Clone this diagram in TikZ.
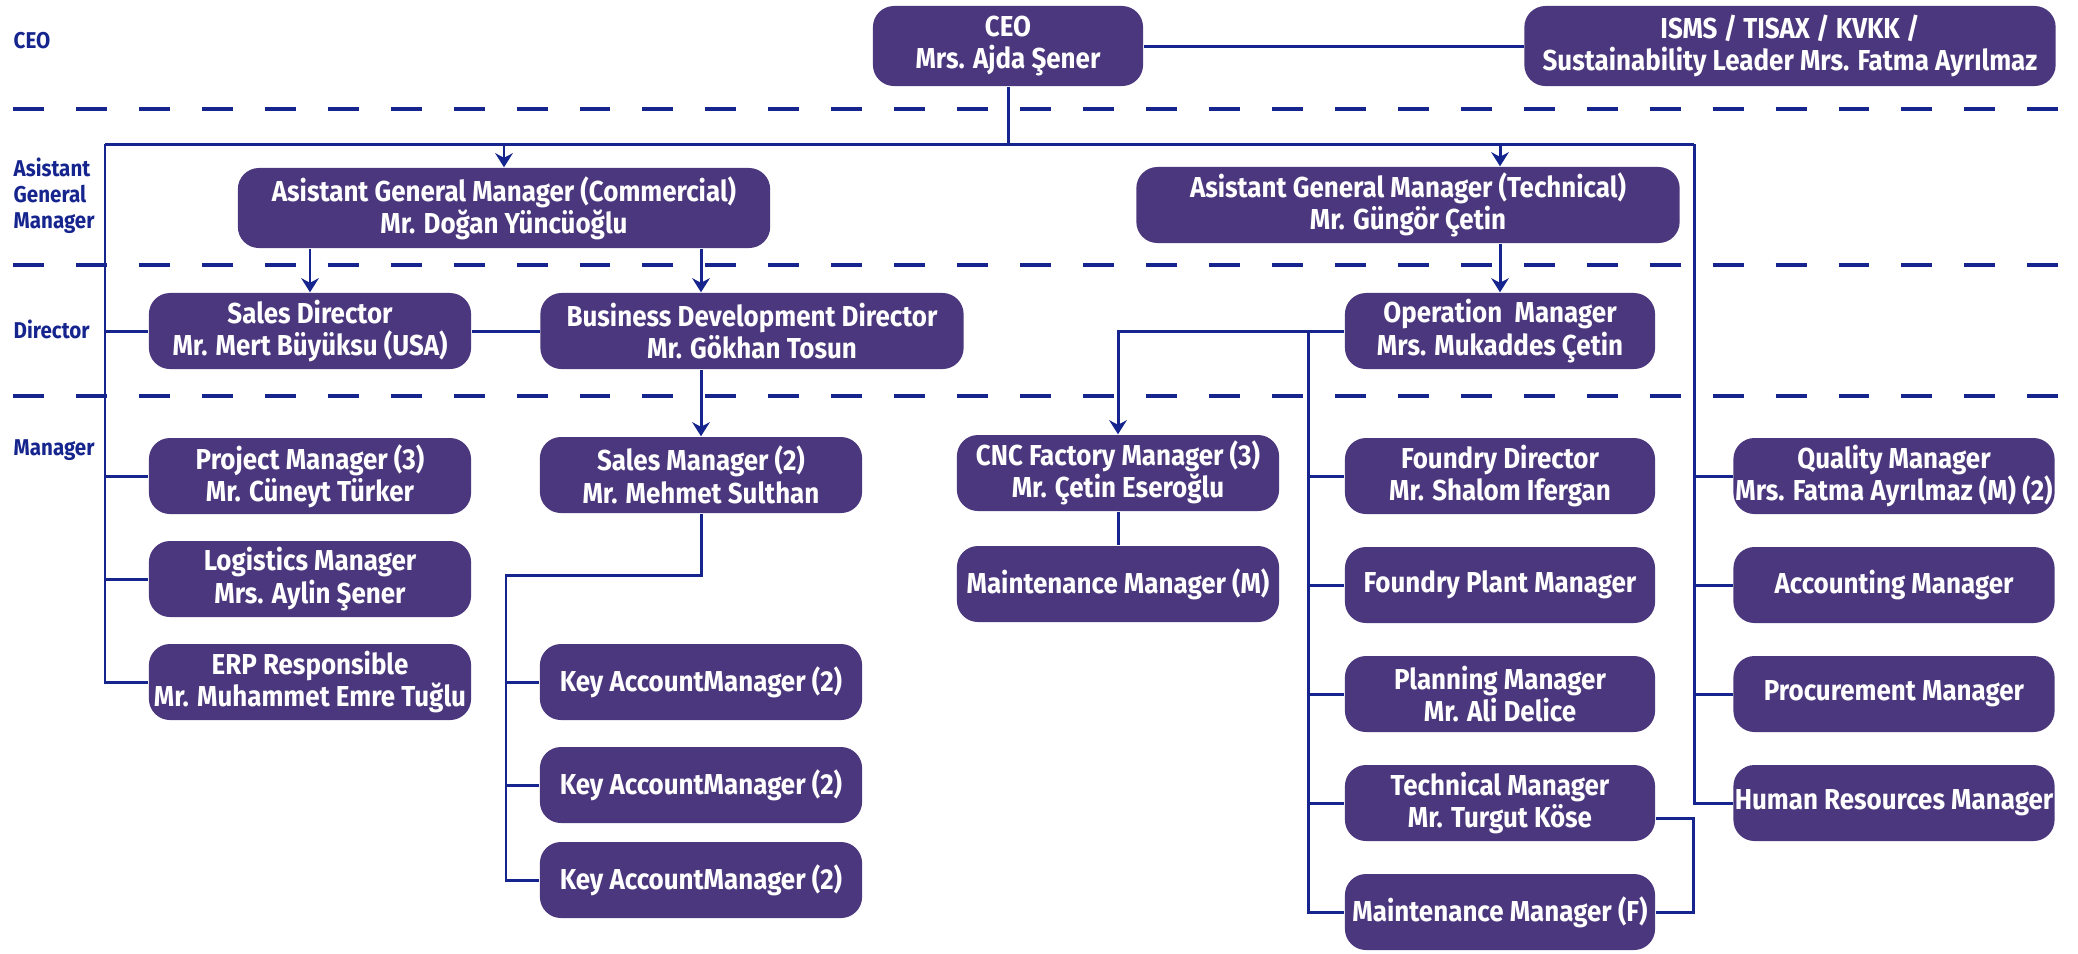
\documentclass[tikz,border=0pt]{standalone}
\usepackage{fontspec}
\setmainfont{Fira Sans}[FakeStretch=0.9]
\usetikzlibrary{arrows.meta}
\definecolor{boxpurple}{HTML}{4B377D}
\definecolor{linkblue}{HTML}{16258E}

\begin{document}
\begin{tikzpicture}[x=0.01cm, y=-0.01cm,
    unit/.style={rounded corners=6pt, fill=boxpurple, text=white, align=center, inner sep=0pt,
        font=\fontsize{8.2}{9.2}\selectfont\bfseries, minimum height=0.76cm, minimum width=3.22cm},
    link/.style={draw=linkblue, line width=0.85pt},
    arr/.style={link, -{Stealth[length=4pt, width=5pt, inset=1.3pt]}},
    level/.style={text=linkblue, font=\fontsize{6.5}{7.4}\selectfont\bfseries, align=left, anchor=west, inner sep=0pt}]

    \useasboundingbox (0,0) rectangle (2078,953);

    % Level separators
    \foreach \y in {109, 265, 396} {
        \draw[linkblue, line width=1pt, dash pattern=on 8.8pt off 9.1pt] (13,\y) -- (2068,\y);
    }

    % Level names
    \node[level] (lceo) at (13,41) {CEO};
    \node[level] (lagm) at (13,196) {Asistant\\General\\Manager};
    \node[level] (ldir) at (13,329) {Director};
    \node[level] (lmgr) at (13,450) {Manager};

    % CEO level
    \node[unit, minimum width=2.70cm, minimum height=0.80cm] (ceo) at (1008,46) {CEO\\Mrs. Ajda Şener};
    \node[unit, minimum width=5.31cm, minimum height=0.80cm] (isms) at (1790,46) {ISMS / TISAX / KVKK /\\Sustainability Leader Mrs. Fatma Ayrılmaz};

    % Asistant general managers
    \node[unit, minimum width=5.32cm, minimum height=0.80cm] (agmc) at (504,208) {Asistant General Manager (Commercial)\\Mr. Doğan Yüncüoğlu};
    \node[unit, minimum width=5.43cm] (agmt) at (1408,205) {Asistant General Manager (Technical)\\Mr. Güngör Çetin};

    % Directors
    \node[unit] (salesdir) at (310,331) {Sales Director\\Mr. Mert Büyüksu (USA)};
    \node[unit, minimum width=4.23cm] (bdd) at (752,331) {Business Development Director\\Mr. Gökhan Tosun};
    \node[unit, minimum width=3.10cm] (opm) at (1500,331) {Operation~~Manager\\Mrs. Mukaddes Çetin};

    % Commercial managers
    \node[unit] (project) at (310,476) {Project Manager (3)\\Mr. Cüneyt Türker};
    \node[unit] (logistics) at (310,579) {Logistics Manager\\Mrs. Aylin Şener};
    \node[unit] (erp) at (310,682) {ERP Responsible\\Mr. Muhammet Emre Tuğlu};
    \node[unit] (salesmgr) at (701,475) {Sales Manager (2)\\Mr. Mehmet Sulthan};
    \node[unit] (key1) at (701,682) {Key AccountManager (2)};
    \node[unit] (key2) at (701,785) {Key AccountManager (2)};
    \node[unit] (key3) at (701,880) {Key AccountManager (2)};

    % Technical managers
    \node[unit] (cnc) at (1118,473) {CNC Factory Manager (3)\\Mr. Çetin Eseroğlu};
    \node[unit] (maintm) at (1118,584) {Maintenance Manager (M)};
    \node[unit, minimum width=3.10cm] (fdir) at (1500,476) {Foundry Director\\Mr. Shalom Ifergan};
    \node[unit, minimum width=3.10cm] (fplant) at (1500,585) {Foundry Plant Manager};
    \node[unit, minimum width=3.10cm] (planning) at (1500,694) {Planning Manager\\Mr. Ali Delice};
    \node[unit, minimum width=3.10cm] (tech) at (1500,803) {Technical Manager\\Mr. Turgut Köse};
    \node[unit, minimum width=3.10cm] (maintf) at (1500,912) {Maintenance Manager (F)};
    \node[unit, minimum width=3.21cm] (quality) at (1894,476) {Quality Manager\\Mrs. Fatma Ayrılmaz (M) (2)};
    \node[unit, minimum width=3.21cm] (accounting) at (1894,585) {Accounting Manager};
    \node[unit, minimum width=3.21cm] (procurement) at (1894,694) {Procurement Manager};
    \node[unit, minimum width=3.21cm] (hr) at (1894,803) {Human Resources Manager};

    % Spines
    \coordinate (busL) at (105,144);
    \coordinate (busR) at (1694,144);
    \coordinate (kaspine) at (506,575);
    \coordinate (fsp) at (1308,0);
    \coordinate (brk) at (1693,0);

    % CEO links
    \draw[link] (ceo.east) -- (isms.west);
    \draw[link] (ceo.south) -- (ceo.south |- busL);
    \draw[link] (busL) -- (busR);
    \draw[arr] (busL -| agmc.north) -- (agmc.north);
    \draw[arr] (busR -| opm.north) -- (opm.north |- agmt.north);

    % Left spine
    \draw[link] (busL) |- (erp.west);
    \foreach \n in {salesdir, project, logistics} {
        \draw[link] (busL |- \n.west) -- (\n.west);
    }
    \draw[link] (salesdir.east) -- (bdd.west);

    % Commercial links
    \draw[arr] (agmc.south -| salesdir.north) -- (salesdir.north);
    \draw[arr] (agmc.south -| salesmgr.north) -- (salesmgr.north |- bdd.north);
    \draw[arr] (bdd.south -| salesmgr.north) -- (salesmgr.north);
    \draw[link] (salesmgr.south) |- (kaspine) |- (key3.west);
    \foreach \n in {key1, key2} {
        \draw[link] (kaspine |- \n.west) -- (\n.west);
    }

    % Technical links
    \draw[arr] (agmt.south -| opm.north) -- (opm.north);
    \draw[arr] (opm.west) -| (cnc.north);
    \draw[link] (cnc.south) -- (maintm.north);
    \draw[link] (fsp |- opm.west) |- (maintf.west);
    \foreach \n in {fdir, fplant, planning, tech} {
        \draw[link] (fsp |- \n.west) -- (\n.west);
    }
    \draw[link] ([yshift=-4.3pt]tech.east) -| (brk |- maintf.east) -- (maintf.east);

    % Right spine
    \draw[link] (busR) |- (hr.west);
    \foreach \n in {quality, accounting, procurement} {
        \draw[link] (busR |- \n.west) -- (\n.west);
    }
\end{tikzpicture}
\end{document}
